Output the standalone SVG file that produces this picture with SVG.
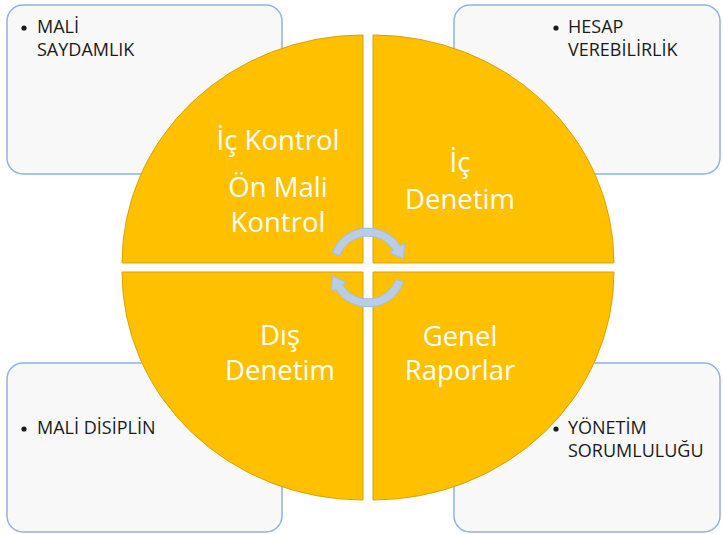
<svg xmlns="http://www.w3.org/2000/svg" width="723" height="534" viewBox="0 0 723 534">
  <style>
    .card { fill: #F8F8F8; stroke: #8DB3E2; stroke-width: 1.5; }
    .card-text { font-family: "Open Sans", "Noto Sans", sans-serif; font-size: 18px; fill: #1A1A1A; }
    .quad { fill: #FFC000; stroke: #D9A300; stroke-width: 1; }
    .quad-text { font-family: "Open Sans", "Noto Sans", sans-serif; font-size: 27.5px; fill: #FFFFFF; text-anchor: middle; }
    .cycle { fill: #B9CDE9; stroke: #A3BCDF; stroke-width: 1; }
  </style>

  <!-- corner cards -->
  <g id="card-tl">
    <rect class="card" x="7" y="5" width="275" height="169" rx="16"/>
    <circle cx="24" cy="28" r="2.6" fill="#1A1A1A"/>
    <text class="card-text" x="37" y="33">MALİ</text>
    <text class="card-text" x="37" y="56">SAYDAMLIK</text>
  </g>
  <g id="card-tr">
    <rect class="card" x="454" y="5" width="266" height="169" rx="16"/>
    <circle cx="556" cy="28" r="2.6" fill="#1A1A1A"/>
    <text class="card-text" x="568" y="33">HESAP</text>
    <text class="card-text" x="568" y="56">VEREBİLİRLİK</text>
  </g>
  <g id="card-bl">
    <rect class="card" x="7" y="363" width="275" height="169" rx="16"/>
    <circle cx="24" cy="429" r="2.6" fill="#1A1A1A"/>
    <text class="card-text" x="37" y="434">MALİ DİSİPLİN</text>
  </g>
  <g id="card-br">
    <rect class="card" x="454" y="363" width="266" height="169" rx="16"/>
    <circle cx="556" cy="429" r="2.6" fill="#1A1A1A"/>
    <text class="card-text" x="568" y="434">YÖNETİM</text>
    <text class="card-text" x="568" y="457">SORUMLULUĞU</text>
  </g>

  <!-- quadrants of the central disc -->
  <g id="quad-ic-kontrol">
    <path class="quad" d="M 363 263 L 363 35 A 241 228 0 0 0 122 263 Z"/>
    <text class="quad-text" x="278" y="150">İç Kontrol</text>
    <text class="quad-text" x="278" y="197">Ön Mali</text>
    <text class="quad-text" x="278" y="232">Kontrol</text>
  </g>
  <g id="quad-ic-denetim">
    <path class="quad" d="M 373 263 L 373 35 A 241 228 0 0 1 614 263 Z"/>
    <text class="quad-text" x="460" y="172">İç</text>
    <text class="quad-text" x="460" y="209">Denetim</text>
  </g>
  <g id="quad-dis-denetim">
    <path class="quad" d="M 363 272 L 122 272 A 241 228 0 0 0 363 500 Z"/>
    <text class="quad-text" x="280" y="345">Dış</text>
    <text class="quad-text" x="280" y="380">Denetim</text>
  </g>
  <g id="quad-genel-raporlar">
    <path class="quad" d="M 373 272 L 614 272 A 241 228 0 0 1 373 500 Z"/>
    <text class="quad-text" x="460" y="346">Genel</text>
    <text class="quad-text" x="460" y="380">Raporlar</text>
  </g>

  <!-- circular arrows in the centre -->
  <g id="connectors">
    <path class="cycle" d="M 332.29 253 A 38 38 0 0 1 400.23 245.86 L 404.47 243.21 L 403.7 259 L 389.2 252.75 L 393.44 250.1 A 30 30 0 0 0 339.81 255.74 Z"/>
    <path class="cycle" transform="rotate(180 368 267.5)" d="M 332.29 253 A 38 38 0 0 1 400.23 245.86 L 404.47 243.21 L 403.7 259 L 389.2 252.75 L 393.44 250.1 A 30 30 0 0 0 339.81 255.74 Z"/>
  </g>
</svg>
